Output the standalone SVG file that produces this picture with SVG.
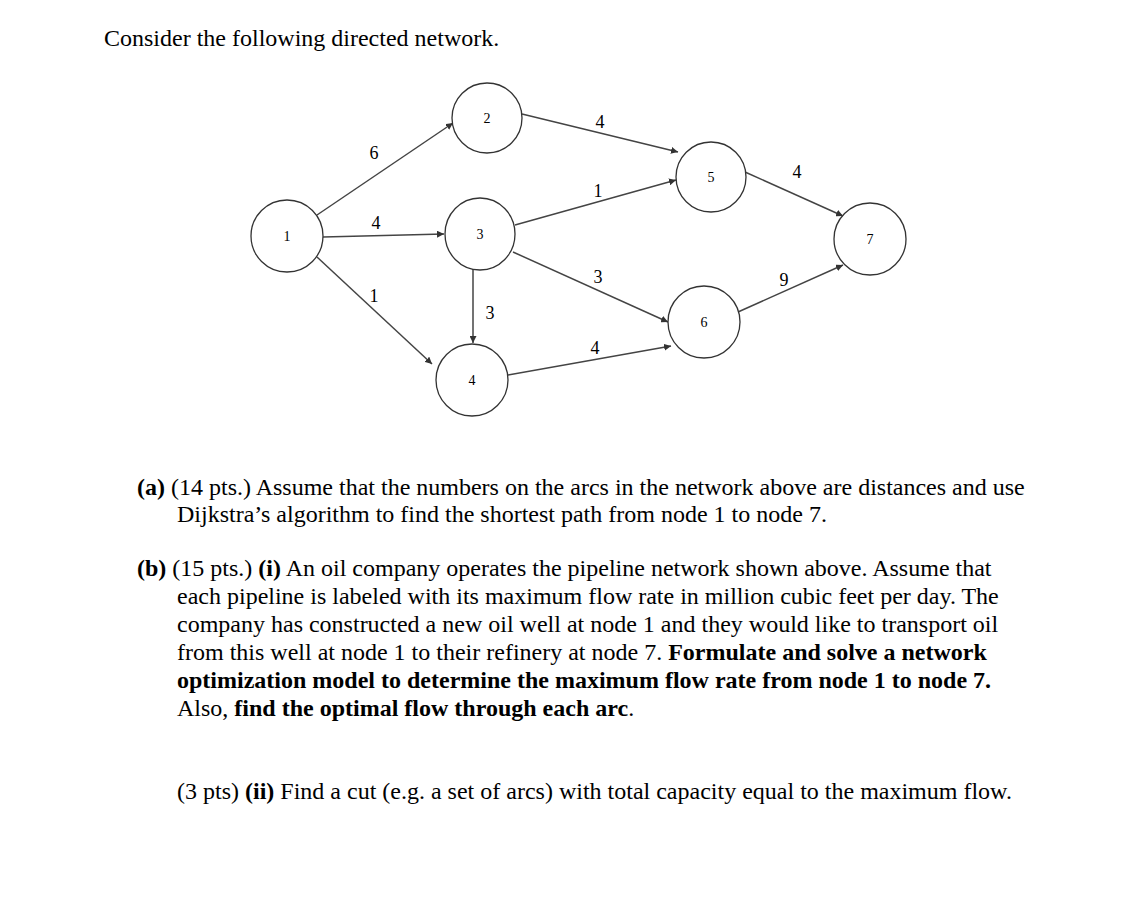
<svg xmlns="http://www.w3.org/2000/svg" width="1135" height="910" viewBox="0 0 1135 910">
<defs>
<style>
.n{fill:#fff;stroke:#333;stroke-width:1.3}
.nl{font-family:"Liberation Serif",serif;font-size:14px;text-anchor:middle;dominant-baseline:central}
.e{stroke:#444;stroke-width:1.5;fill:none;marker-end:url(#a)}
.el{font-family:"Liberation Serif",serif;font-size:18px;text-anchor:middle}
.t{font-family:"Liberation Serif",serif;font-size:24px;fill:#000}
</style>
<marker id="a" viewBox="0 0 10 10" refX="10" refY="5" markerWidth="7" markerHeight="7" orient="auto" markerUnits="userSpaceOnUse"><path d="M0,0L10,5L0,10z" fill="#333"/></marker>
</defs>
<rect width="1135" height="910" fill="#fff"/>
<text class="t" x="104" y="46">Consider the following directed network.</text>
<g id="edges">
<line class="e" x1="317" y1="215" x2="453" y2="123"/>
<line class="e" x1="323" y1="237" x2="444" y2="234"/>
<line class="e" x1="317" y1="257" x2="432" y2="364"/>
<line class="e" x1="522" y1="114" x2="678" y2="152"/>
<line class="e" x1="515" y1="225" x2="676" y2="180"/>
<line class="e" x1="513" y1="252" x2="668" y2="322"/>
<line class="e" x1="473" y1="269" x2="473" y2="343"/>
<line class="e" x1="508" y1="375" x2="671" y2="346"/>
<line class="e" x1="745" y1="172" x2="843" y2="216"/>
<line class="e" x1="738" y1="312" x2="843" y2="265"/>
<text class="el" x="374" y="159">6</text>
<text class="el" x="376" y="229">4</text>
<text class="el" x="374" y="302">1</text>
<text class="el" x="600" y="128">4</text>
<text class="el" x="598" y="197">1</text>
<text class="el" x="598" y="283">3</text>
<text class="el" x="490" y="319">3</text>
<text class="el" x="595" y="354">4</text>
<text class="el" x="797" y="178">4</text>
<text class="el" x="784" y="286">9</text>
</g>
<g id="n1"><ellipse class="n" cx="287" cy="236" rx="36" ry="36"/><text class="nl" x="287" y="236">1</text></g>
<g id="n2"><ellipse class="n" cx="487" cy="118" rx="35" ry="35"/><text class="nl" x="487" y="118">2</text></g>
<g id="n3"><ellipse class="n" cx="480" cy="234" rx="35" ry="36"/><text class="nl" x="480" y="234">3</text></g>
<g id="n4"><ellipse class="n" cx="472" cy="380" rx="36" ry="36"/><text class="nl" x="472" y="380">4</text></g>
<g id="n5"><ellipse class="n" cx="711" cy="177" rx="35" ry="35"/><text class="nl" x="711" y="177">5</text></g>
<g id="n6"><ellipse class="n" cx="704" cy="322" rx="36" ry="36"/><text class="nl" x="704" y="322">6</text></g>
<g id="n7"><ellipse class="n" cx="870" cy="239" rx="36" ry="36"/><text class="nl" x="870" y="239">7</text></g>
<text class="t" x="137" y="495"><tspan font-weight="bold">(a)</tspan> (14 pts.) Assume that the numbers on the arcs in the network above are distances and use</text>
<text class="t" x="177" y="522">Dijkstra’s algorithm to find the shortest path from node 1 to node 7.</text>
<text class="t" x="137" y="576"><tspan font-weight="bold">(b)</tspan> (15 pts.) <tspan font-weight="bold">(i)</tspan> An oil company operates the pipeline network shown above. Assume that</text>
<text class="t" x="177" y="604">each pipeline is labeled with its maximum flow rate in million cubic feet per day. The</text>
<text class="t" x="177" y="632">company has constructed a new oil well at node 1 and they would like to transport oil</text>
<text class="t" x="177" y="660">from this well at node 1 to their refinery at node 7. <tspan font-weight="bold">Formulate and solve a network</tspan></text>
<text class="t" x="177" y="688" font-weight="bold">optimization model to determine the maximum flow rate from node 1 to node 7.</text>
<text class="t" x="177" y="716">Also, <tspan font-weight="bold">find the optimal flow through each arc</tspan>.</text>
<text class="t" x="177" y="799">(3 pts) <tspan font-weight="bold">(ii)</tspan> Find a cut (e.g. a set of arcs) with total capacity equal to the maximum flow.</text>
</svg>
